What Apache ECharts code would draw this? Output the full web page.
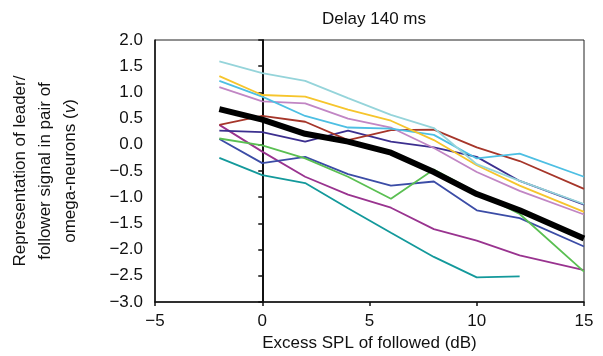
<!DOCTYPE html>
<html>
<head>
<meta charset="utf-8">
<script src="https://cdn.jsdelivr.net/npm/echarts@6/dist/echarts.min.js"></script>
<style>
  html, body { margin: 0; padding: 0; background: #fff; }
  #chart { width: 603px; height: 356px; }
</style>
</head>
<body>
<div id="chart"></div>
<script>
// excess SPL of followed (dB)
const xs = [-2, 0, 2, 4, 6, 8, 10, 12, 15]

const lightCyan = [1.59, 1.37, 1.22, 0.89, 0.57, 0.32, -0.37, -0.69, -1.13]
const yellow = [1.31, 0.95, 0.92, 0.67, 0.46, 0.09, -0.39, -0.78, -1.28]
const skyBlue = [1.22, 0.92, 0.55, 0.33, 0.31, 0.19, -0.26, -0.17, -0.61]
const orchid = [1.10, 0.83, 0.79, 0.50, 0.33, -0.06, -0.52, -0.88, -1.33]
const red = [0.38, 0.55, 0.44, 0.09, 0.28, 0.29, -0.05, -0.31, -0.84]
const indigo = [0.27, 0.24, 0.06, 0.27, 0.06, -0.05, -0.23, -0.69, -1.14]
const green = [0.12, -0.01, -0.26, -0.61, -1.03, -0.47, -0.91, -1.32, -2.42]
const blue = [0.11, -0.35, -0.23, -0.56, -0.78, -0.70, -1.25, -1.40, -1.94]
const purple = [0.38, -0.13, -0.61, -0.95, -1.20, -1.61, -1.83, -2.11, -2.39]
const teal = [-0.25, -0.58, -0.73, -1.21, -1.68, -2.14, -2.53, -2.51, null]
const mean = [0.68, 0.48, 0.21, 0.06, -0.15, -0.52, -0.94, -1.25, -1.79]

const SERIES = [
  { vals: teal, color: '#13999b' },
  { vals: purple, color: '#99338f' },
  { vals: blue, color: '#3b4ca6' },
  { vals: green, color: '#5abf52' },
  { vals: indigo, color: '#3c2f8f' },
  { vals: red, color: '#a6362a' },
  { vals: orchid, color: '#c186c4' },
  { vals: skyBlue, color: '#4dbfe3' },
  { vals: yellow, color: '#f6c52c' },
  { vals: lightCyan, color: '#95d4da' },
]

const FONT = 'Liberation Sans'
const minus = (v) => String(v).replace('-', '\u2212')

function line(vals, color, width) {
  return {
    type: 'line',
    data: xs.map((x, i) => [x, vals[i]]),
    showSymbol: false,
    connectNulls: false,
    lineStyle: { color, width },
    silent: true,
  }
}

const chart = echarts.init(document.getElementById('chart'))
chart.setOption({
  animation: false,
  title: {
    text: 'Delay 140 ms',
    left: 369,
    top: 6,
    textAlign: 'center',
    textStyle: { fontFamily: FONT, fontSize: 17, fontWeight: 'normal', color: '#111' },
  },
  grid: {
    left: 155, right: 19, top: 40, bottom: 54,
    outerBoundsMode: 'none',
    show: true, borderColor: '#222', borderWidth: 1,
  },
  xAxis: {
    type: 'value',
    min: -5, max: 15, interval: 5,
    splitLine: { show: false },
    axisLine: { onZero: false, lineStyle: { color: '#111', width: 1.5 } },
    axisTick: { length: 4, lineStyle: { color: '#111', width: 1.5 } },
    axisLabel: { color: '#111', fontFamily: FONT, fontSize: 17, margin: 11, formatter: minus },
    name: 'Excess SPL of followed (dB)',
    nameLocation: 'middle',
    nameGap: 32,
    nameTextStyle: { color: '#111', fontFamily: FONT, fontSize: 17 },
  },
  yAxis: [
    {
      type: 'value',
      min: -3, max: 2, interval: 0.5,
      splitLine: { show: false },
      axisLine: { show: true, onZero: false, lineStyle: { color: '#111', width: 1.5 } },
      axisTick: { show: false },
      axisLabel: {
        color: '#111', fontFamily: FONT, fontSize: 17, margin: 12,
        formatter: (v) => minus(v.toFixed(1)),
      },
      name: 'Representation of leader/\nfollower signal in pair of\nomega-neurons ({i|v})',
      nameLocation: 'middle',
      nameGap: 72,
      nameTextStyle: {
        color: '#111', fontFamily: FONT, fontSize: 17, lineHeight: 25,
        rich: { i: { fontStyle: 'italic', fontFamily: FONT, fontSize: 17, color: '#111' } },
      },
    },
    {
      type: 'value',
      position: 'left',
      min: -3, max: 2, interval: 0.5,
      splitLine: { show: false },
      axisLine: { show: true, onZero: true, lineStyle: { color: '#111', width: 2 } },
      axisTick: { show: true, length: 4, lineStyle: { color: '#111', width: 1.5 } },
      axisLabel: { show: false },
    },
  ],
  series: [
    ...SERIES.map((s) => line(s.vals, s.color, 1.8)),
    line(mean, '#000', 6),
  ],
})
</script>
</body>
</html>
